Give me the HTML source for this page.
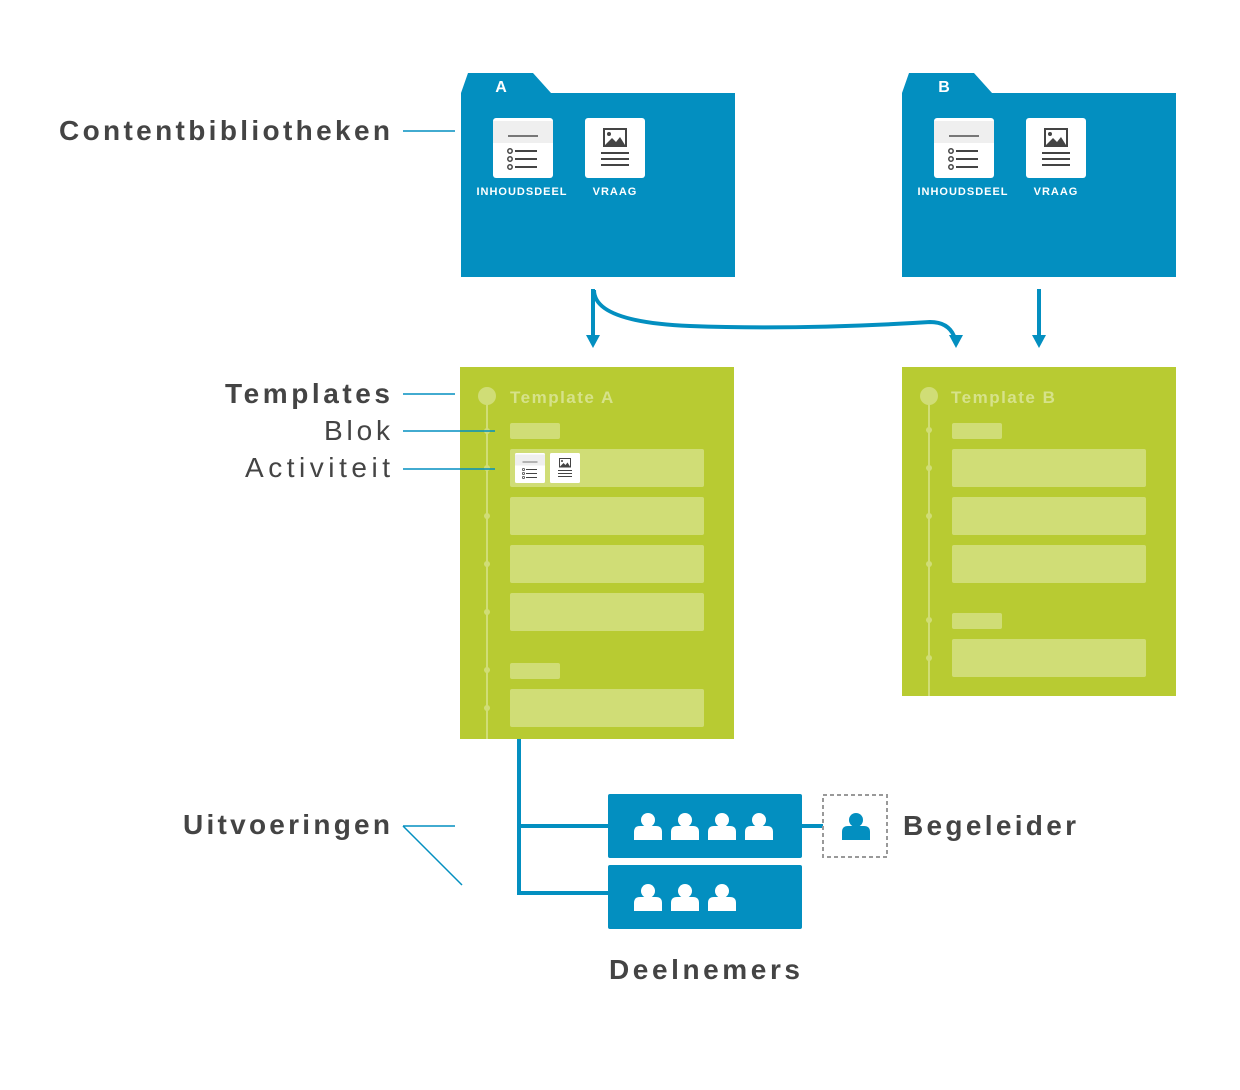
<!DOCTYPE html>
<html><head><meta charset="utf-8"><style>
html,body{margin:0;padding:0;background:#fff;}
svg{display:block;}
text{font-family:"Liberation Sans",sans-serif;}
</style></head><body>
<svg width="1240" height="1090" viewBox="0 0 1240 1090" xmlns="http://www.w3.org/2000/svg">
<defs>
  <g id="inh">
    <rect x="0" y="0" width="60" height="60" rx="3" fill="#fff"/>
    <rect x="0" y="3" width="60" height="22" fill="#efefef"/>
    <rect x="15" y="17" width="30" height="2" fill="#777"/>
    <circle cx="17" cy="33" r="2.2" fill="none" stroke="#444" stroke-width="1.5"/>
    <circle cx="17" cy="41" r="2.2" fill="none" stroke="#444" stroke-width="1.5"/>
    <circle cx="17" cy="49" r="2.2" fill="none" stroke="#444" stroke-width="1.5"/>
    <rect x="22" y="32" width="22" height="2" fill="#444"/>
    <rect x="22" y="40" width="22" height="2" fill="#444"/>
    <rect x="22" y="48" width="22" height="2" fill="#444"/>
  </g>
  <g id="vra">
    <rect x="0" y="0" width="60" height="60" rx="3" fill="#fff"/>
    <rect x="19" y="11" width="22" height="17" fill="none" stroke="#444" stroke-width="2"/>
    <circle cx="24" cy="16" r="2" fill="#444"/>
    <path d="M20 27 L27 20 L31 24 L35 19 L40 27 Z" fill="#444"/>
    <rect x="16" y="34" width="28" height="2" fill="#444"/>
    <rect x="16" y="40" width="28" height="2" fill="#444"/>
    <rect x="16" y="46" width="28" height="2" fill="#444"/>
  </g>
  <g id="person">
    <circle cx="0" cy="-6" r="7" fill="#fff"/>
    <path d="M-14 14 L-14 6 Q-14 0 -8 0 L8 0 Q14 0 14 6 L14 14 Z" fill="#fff"/>
  </g>
</defs>

<!-- Folder A -->
<path d="M461 93 L468 73 L533 73 L551 93 L735 93 L735 277 L461 277 Z" fill="#038fc0"/>
<text x="501" y="92" font-size="16" font-weight="bold" fill="#fff" text-anchor="middle">A</text>
<use href="#inh" x="493" y="118"/>
<use href="#vra" x="585" y="118"/>
<text x="522" y="195" font-size="11" font-weight="bold" fill="#fff" text-anchor="middle" letter-spacing="1">INHOUDSDEEL</text>
<text x="615" y="195" font-size="11" font-weight="bold" fill="#fff" text-anchor="middle" letter-spacing="1">VRAAG</text>

<!-- Folder B -->
<path d="M902 93 L909 73 L974 73 L992 93 L1176 93 L1176 277 L902 277 Z" fill="#038fc0"/>
<text x="944" y="92" font-size="16" font-weight="bold" fill="#fff" text-anchor="middle">B</text>
<use href="#inh" x="934" y="118"/>
<use href="#vra" x="1026" y="118"/>
<text x="963" y="195" font-size="11" font-weight="bold" fill="#fff" text-anchor="middle" letter-spacing="1">INHOUDSDEEL</text>
<text x="1056" y="195" font-size="11" font-weight="bold" fill="#fff" text-anchor="middle" letter-spacing="1">VRAAG</text>

<!-- arrows -->
<g stroke="#038fc0" stroke-width="4" fill="none">
  <line x1="593" y1="289" x2="593" y2="337"/>
  <line x1="1039" y1="289" x2="1039" y2="337"/>
  <path d="M594 290 Q594 322 690 326 Q800 330 930 322 Q948 322 954 336"/>
</g>
<g fill="#038fc0">
  <path d="M586 335 L600 335 L593 348 Z"/>
  <path d="M1032 335 L1046 335 L1039 348 Z"/>
  <path d="M949 335 L963 335 L956 348 Z"/>
</g>

<!-- Template A -->
<rect x="460" y="367" width="274" height="372" fill="#b8cb32"/>
<line x1="487" y1="396" x2="487" y2="739" stroke="#d0dd76" stroke-width="2"/>
<circle cx="487" cy="396" r="9" fill="#d0dd76"/>
<text x="510" y="403" font-size="17" font-weight="bold" fill="#d6e28a" letter-spacing="1.5">Template A</text>
<g fill="#d0dd76">
  <circle cx="487" cy="431" r="3"/><circle cx="487" cy="468" r="3"/><circle cx="487" cy="516" r="3"/>
  <circle cx="487" cy="564" r="3"/><circle cx="487" cy="612" r="3"/><circle cx="487" cy="670" r="3"/><circle cx="487" cy="708" r="3"/>
  <rect x="510" y="423" width="50" height="16" rx="2"/>
  <rect x="510" y="449" width="194" height="38" rx="2"/>
  <rect x="510" y="497" width="194" height="38" rx="2"/>
  <rect x="510" y="545" width="194" height="38" rx="2"/>
  <rect x="510" y="593" width="194" height="38" rx="2"/>
  <rect x="510" y="663" width="50" height="16" rx="2"/>
  <rect x="510" y="689" width="194" height="38" rx="2"/>
</g>
<g transform="translate(515,453) scale(0.5)"><use href="#inh"/></g>
<g transform="translate(550,453) scale(0.5)"><use href="#vra"/></g>

<!-- Template B -->
<rect x="902" y="367" width="274" height="329" fill="#b8cb32"/>
<line x1="929" y1="396" x2="929" y2="696" stroke="#d0dd76" stroke-width="2"/>
<circle cx="929" cy="396" r="9" fill="#d0dd76"/>
<text x="951" y="403" font-size="17" font-weight="bold" fill="#d6e28a" letter-spacing="1.5">Template B</text>
<g fill="#d0dd76">
  <circle cx="929" cy="430" r="3"/><circle cx="929" cy="468" r="3"/><circle cx="929" cy="516" r="3"/>
  <circle cx="929" cy="564" r="3"/><circle cx="929" cy="620" r="3"/><circle cx="929" cy="658" r="3"/>
  <rect x="952" y="423" width="50" height="16" rx="2"/>
  <rect x="952" y="449" width="194" height="38" rx="2"/>
  <rect x="952" y="497" width="194" height="38" rx="2"/>
  <rect x="952" y="545" width="194" height="38" rx="2"/>
  <rect x="952" y="613" width="50" height="16" rx="2"/>
  <rect x="952" y="639" width="194" height="38" rx="2"/>
</g>

<!-- Labels -->
<g fill="#444" font-size="28">
  <text x="59" y="140" font-weight="bold" textLength="331" lengthAdjust="spacing">Contentbibliotheken</text>
  <text x="225" y="403" font-weight="bold" textLength="165" lengthAdjust="spacing">Templates</text>
  <text x="324" y="440" textLength="66" lengthAdjust="spacing">Blok</text>
  <text x="245" y="477" textLength="145" lengthAdjust="spacing">Activiteit</text>
  <text x="183" y="834" font-weight="bold" textLength="207" lengthAdjust="spacing">Uitvoeringen</text>
  <text x="903" y="835" font-weight="bold" textLength="173" lengthAdjust="spacing">Begeleider</text>
  <text x="609" y="979" font-weight="bold" textLength="191" lengthAdjust="spacing">Deelnemers</text>
</g>
<g stroke="#038fc0" stroke-width="1.5" fill="none">
  <line x1="403" y1="131" x2="455" y2="131"/>
  <line x1="403" y1="394" x2="455" y2="394"/>
  <line x1="403" y1="431" x2="495" y2="431"/>
  <line x1="403" y1="469" x2="495" y2="469"/>
  <line x1="403" y1="826" x2="455" y2="826"/>
  <line x1="403" y1="826" x2="462" y2="885"/>
</g>

<!-- Uitvoeringen connectors -->
<g stroke="#038fc0" stroke-width="4" fill="none">
  <path d="M519 739 L519 893 L608 893"/>
  <line x1="519" y1="826" x2="608" y2="826"/>
  <line x1="802" y1="826" x2="823" y2="826"/>
</g>
<rect x="608" y="794" width="194" height="64" rx="2" fill="#038fc0"/>
<rect x="608" y="865" width="194" height="64" rx="2" fill="#038fc0"/>
<use href="#person" x="648" y="826"/>
<use href="#person" x="685" y="826"/>
<use href="#person" x="722" y="826"/>
<use href="#person" x="759" y="826"/>
<use href="#person" x="648" y="897"/>
<use href="#person" x="685" y="897"/>
<use href="#person" x="722" y="897"/>
<rect x="823" y="795" width="64" height="62" fill="#fff" stroke="#999" stroke-width="2" stroke-dasharray="4,3"/>
<g transform="translate(856,826)">
  <circle cx="0" cy="-6" r="7" fill="#038fc0"/>
  <path d="M-14 14 L-14 6 Q-14 0 -8 0 L8 0 Q14 0 14 6 L14 14 Z" fill="#038fc0"/>
</g>
</svg>
</body></html>
